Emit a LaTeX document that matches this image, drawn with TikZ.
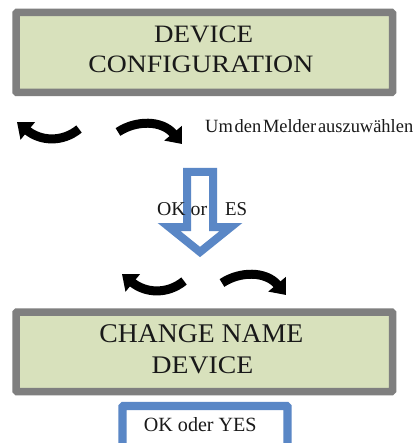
\documentclass[tikz,border=0pt]{standalone}
\usepackage{fontspec}
\setmainfont{Liberation Serif}
\usetikzlibrary{arrows.meta}
\definecolor{lcdgray}{RGB}{127,127,127}
\definecolor{lcdgreen}{RGB}{216,225,188}
\definecolor{keyblue}{RGB}{90,135,198}
\newcommand{\fitto}[2]{\resizebox{#1}{\height}{#2}}
\tikzset{
  lcdbox/.style={draw=lcdgray, fill=lcdgreen, line width=7.5pt, rounded corners=1pt},
  keybox/.style={draw=keyblue, fill=white, line width=8.3pt, rounded corners=1pt},
  curvy/.style={line width=9pt, -{Triangle[width=22pt,length=14pt]}},
  downarrow/.style={draw=keyblue, line width=8pt, miter limit=10},
  lcdtext/.style={anchor=base, inner sep=0pt, text=black!90},
  plaintext/.style={inner sep=0pt, text=black!90}
}
\begin{document}
\begin{tikzpicture}[x=1pt,y=-1pt]
\clip (0,0) rectangle (416,443);
\fill[white] (0,0) rectangle (416,443);
% top display
\draw[lcdbox] (16,12.5) rectangle (392.5,92.5);
\node[lcdtext, font=\fontsize{25}{30}\selectfont] (t1) at (203.7,42.7) {\fitto{99pt}{DEVICE}};
\node[lcdtext, font=\fontsize{25}{30}\selectfont] (t2) at (200.8,72.7) {\fitto{225pt}{CONFIGURATION}};
% top curved arrows
\draw[curvy] (79,129) .. controls (62,143) and (40,141) .. (17,122);
\draw[curvy] (118,132) .. controls (136,120) and (162,120) .. (182,144);
\node[plaintext, anchor=base west, font=\fontsize{18.7}{22}\selectfont] (hint) at (205,132.7)
  {\fitto{208pt}{Um\hspace{1.8pt}den\hspace{1.8pt}Melder\hspace{1.8pt}auszuwählen}};
% blue down arrow
\draw[downarrow] (187,172) -- (213,172) -- (213,227) -- (231,227) -- (200,252) -- (169,227) -- (187,227) -- cycle;
\node[plaintext, anchor=base west, font=\fontsize{19.6}{24}\selectfont] (okor) at (157,215) {\fitto{50pt}{OK or}};
\node[plaintext, anchor=base west, font=\fontsize{19.6}{24}\selectfont] (es) at (225,215) {\fitto{22pt}{ES}};
% bottom curved arrows
\begin{scope}[shift={(105,152)}]
\draw[curvy] (79,129) .. controls (62,143) and (40,141) .. (17,122);
\end{scope}
\begin{scope}[shift={(104,151)}]
\draw[curvy] (118,132) .. controls (136,120) and (162,120) .. (182,144);
\end{scope}
% bottom display
\draw[lcdbox] (16,312) rectangle (392.5,391.5);
\node[lcdtext, font=\fontsize{27}{32}\selectfont] (b1) at (201.3,342) {\fitto{204pt}{CHANGE NAME}};
\node[lcdtext, font=\fontsize{25.3}{30}\selectfont] (b2) at (202.5,373) {\fitto{101.6pt}{DEVICE}};
% OK key
\draw[keybox] (122.5,406) rectangle (287.5,460);
\node[lcdtext, font=\fontsize{20.2}{24}\selectfont] (ok) at (200.3,431.7) {\fitto{112.7pt}{OK oder YES}};
\end{tikzpicture}
\end{document}
